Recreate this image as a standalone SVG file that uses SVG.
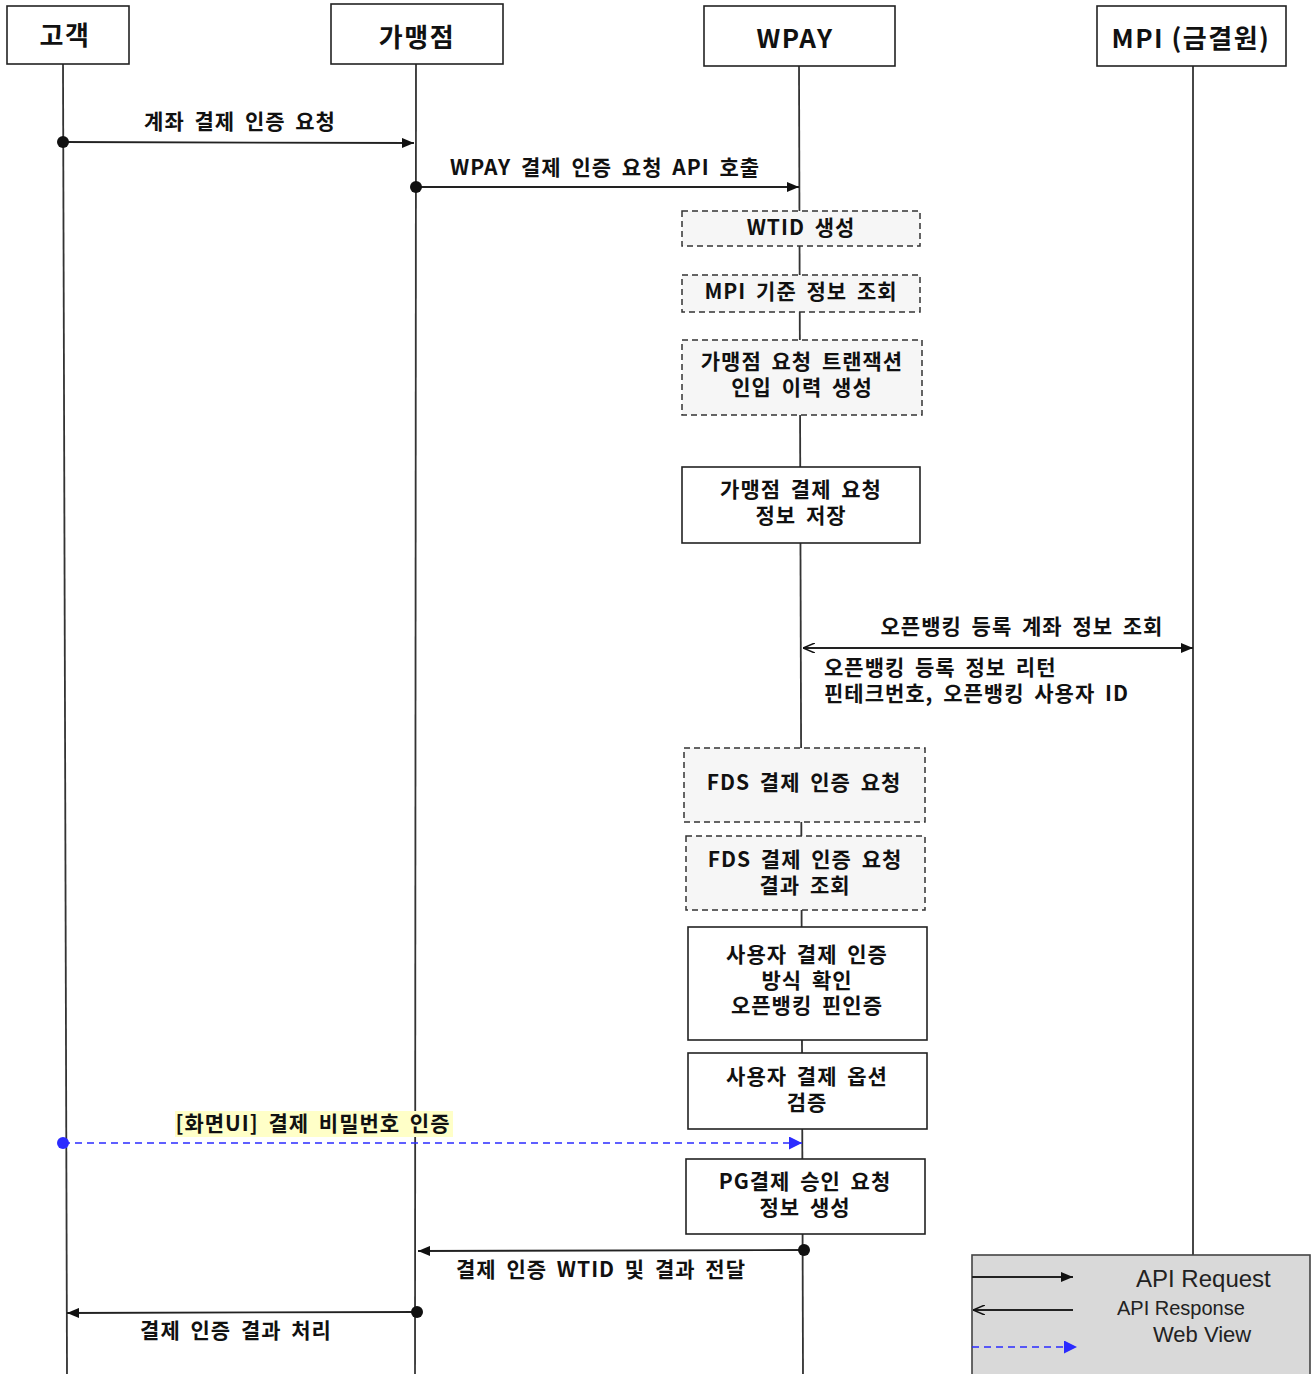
<svg xmlns="http://www.w3.org/2000/svg" width="1314" height="1374" viewBox="0 0 1314 1374">
<style>
text{font-family:"Noto Sans CJK KR","Liberation Sans",sans-serif;fill:#111;}
.h{font-size:26px;font-weight:bold;text-anchor:middle;letter-spacing:1.5px;}
.t{font-size:21px;font-weight:bold;text-anchor:middle;letter-spacing:1px;word-spacing:4px;}
.l{font-size:21px;font-weight:bold;letter-spacing:1px;word-spacing:4px;}
.hd{fill:#fff;stroke:#222;stroke-width:1.6;}
.dash{fill:#f6f6f6;stroke:#333;stroke-width:1.5;stroke-dasharray:6 4;}
.solid{fill:#fff;stroke:#222;stroke-width:1.6;}
.life{stroke:#333;stroke-width:1.8;fill:none;}
.msg{stroke:#222;stroke-width:1.8;fill:none;}
.web{stroke:#2b2bff;stroke-width:1.6;fill:none;stroke-dasharray:7 5;}
.lg{font-family:"Liberation Sans",Arial,sans-serif;font-weight:normal;fill:#222;letter-spacing:0;word-spacing:0;}
</style>
<defs>
<marker id="ah" viewBox="0 0 12 10" refX="12" refY="5" markerWidth="12" markerHeight="10" markerUnits="userSpaceOnUse" orient="auto-start-reverse"><path d="M0,0 L12,5 L0,10 z" fill="#111"/></marker>
<marker id="ahb" viewBox="0 0 12 12" refX="12" refY="6" markerWidth="13" markerHeight="13" markerUnits="userSpaceOnUse" orient="auto"><path d="M0,0 L12,6 L0,12 z" fill="#2b2bff"/></marker>
<marker id="ao" viewBox="0 0 12 10" refX="12" refY="5" markerWidth="12" markerHeight="10" markerUnits="userSpaceOnUse" orient="auto-start-reverse"><path d="M0,0 L12,5 L0,10" fill="none" stroke="#111" stroke-width="1.6"/></marker>
</defs>
<rect width="1314" height="1374" fill="#fff"/>

<g id="lifelines">
<line class="life" x1="63" y1="64" x2="67" y2="1374"/>
<line class="life" x1="416" y1="64" x2="415" y2="1374"/>
<line class="life" x1="799" y1="66" x2="803" y2="1374"/>
<line class="life" x1="1193" y1="66" x2="1193" y2="1255"/>
</g>

<g id="node-customer"><rect class="hd" x="7" y="6" width="122" height="58"/><text class="h" x="65" y="45">고객</text></g>
<g id="node-merchant"><rect class="hd" x="331" y="4" width="172" height="60"/><text class="h" x="417" y="47">가맹점</text></g>
<g id="node-wpay"><rect class="hd" x="704" y="6" width="191" height="60"/><text class="h" x="795" y="48">WPAY</text></g>
<g id="node-mpi"><rect class="hd" x="1097" y="6" width="189" height="60"/><text class="h" x="1191" y="48">MPI (금결원)</text></g>

<g id="node-wtid"><rect class="dash" x="682" y="211" width="238" height="35"/><text class="t" x="801" y="235">WTID 생성</text></g>
<g id="node-mpiinfo"><rect class="dash" x="682" y="275" width="238" height="37"/><text class="t" x="801" y="299">MPI 기준 정보 조회</text></g>
<g id="node-txlog"><rect class="dash" x="682" y="340" width="240" height="75"/><text class="t" x="802" y="369">가맹점 요청 트랜잭션</text><text class="t" x="802" y="395">인입 이력 생성</text></g>
<g id="node-save"><rect class="solid" x="682" y="467" width="238" height="76"/><text class="t" x="801" y="497">가맹점 결제 요청</text><text class="t" x="801" y="523">정보 저장</text></g>
<g id="node-fds1"><rect class="dash" x="684" y="748" width="241" height="74"/><text class="t" x="804" y="790">FDS 결제 인증 요청</text></g>
<g id="node-fds2"><rect class="dash" x="686" y="836" width="239" height="74"/><text class="t" x="805" y="867">FDS 결제 인증 요청</text><text class="t" x="805" y="893">결과 조회</text></g>
<g id="node-authtype"><rect class="solid" x="688" y="927" width="239" height="113"/><text class="t" x="807" y="962">사용자 결제 인증</text><text class="t" x="807" y="988">방식 확인</text><text class="t" x="807" y="1013">오픈뱅킹 핀인증</text></g>
<g id="node-option"><rect class="solid" x="688" y="1053" width="239" height="76"/><text class="t" x="807" y="1084">사용자 결제 옵션</text><text class="t" x="807" y="1110">검증</text></g>
<g id="node-pg"><rect class="solid" x="686" y="1159" width="239" height="75"/><text class="t" x="805" y="1189">PG결제 승인 요청</text><text class="t" x="805" y="1215">정보 생성</text></g>

<g id="connectors">
<line class="msg" x1="63" y1="142" x2="414" y2="143" marker-end="url(#ah)"/>
<circle cx="63" cy="142" r="6" fill="#111"/>
<text class="t" x="240" y="129">계좌 결제 인증 요청</text>

<line class="msg" x1="416" y1="187" x2="799" y2="187" marker-end="url(#ah)"/>
<circle cx="416" cy="187" r="6" fill="#111"/>
<text class="t" x="605" y="175">WPAY 결제 인증 요청 API 호출</text>

<line class="msg" x1="803" y1="648" x2="1193" y2="648" marker-start="url(#ao)" marker-end="url(#ah)"/>
<text class="t" x="1022" y="634">오픈뱅킹 등록 계좌 정보 조회</text>
<text class="l" x="824" y="675">오픈뱅킹 등록 정보 리턴</text>
<text class="l" x="824" y="701">핀테크번호, 오픈뱅킹 사용자 ID</text>

<rect x="175" y="1111" width="278" height="26" fill="#ffffc8"/>
<text class="t" x="313" y="1131">[화면UI] 결제 비밀번호 인증</text>
<line class="web" x1="63" y1="1143" x2="802" y2="1143" marker-end="url(#ahb)"/>
<circle cx="63" cy="1143" r="6" fill="#2b2bff"/>

<line class="msg" x1="804" y1="1250" x2="418" y2="1251" marker-end="url(#ah)"/>
<circle cx="804" cy="1250" r="6" fill="#111"/>
<text class="t" x="601" y="1277">결제 인증 WTID 및 결과 전달</text>

<line class="msg" x1="417" y1="1312" x2="67" y2="1313" marker-end="url(#ah)"/>
<circle cx="417" cy="1312" r="6" fill="#111"/>
<text class="t" x="236" y="1338">결제 인증 결과 처리</text>
</g>

<g id="legend">
<rect x="972" y="1255" width="338" height="125" fill="#d9d9d9" stroke="#444" stroke-width="1.6"/>
<line class="msg" x1="972" y1="1277" x2="1073" y2="1277" marker-end="url(#ah)"/>
<line class="msg" x1="1073" y1="1310" x2="973" y2="1310" marker-end="url(#ao)"/>
<line class="web" x1="972" y1="1347" x2="1077" y2="1347" marker-end="url(#ahb)"/>
<text class="lg" x="1136" y="1287" font-size="24">API Request</text>
<text class="lg" x="1117" y="1315" font-size="20">API Response</text>
<text class="lg" x="1153" y="1342" font-size="22">Web View</text>
</g>
</svg>
